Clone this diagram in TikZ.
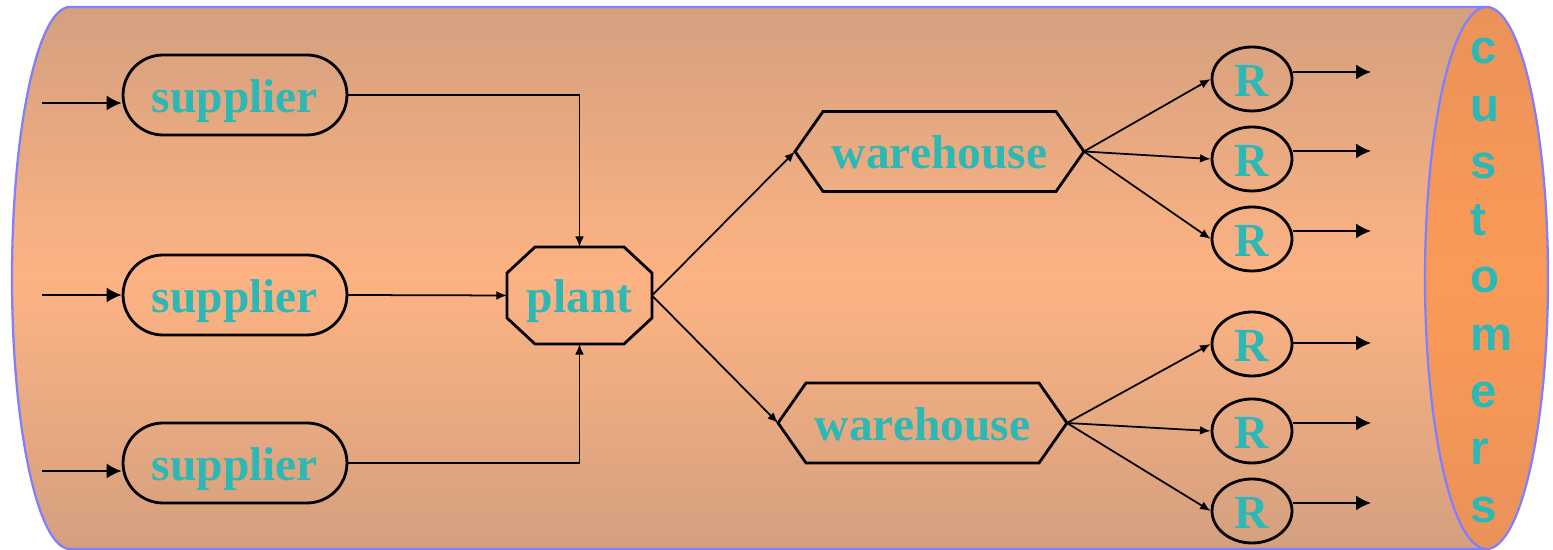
\documentclass[tikz,border=0pt]{standalone}
\usepackage{fontspec}
\newfontfamily\lblfont{Liberation Serif Bold}
\newfontfamily\custfont{Liberation Sans Bold}
\usetikzlibrary{shapes.misc,shapes.geometric,arrows.meta,calc}

\definecolor{bodyedge}{HTML}{D4A07F}
\definecolor{bodymid}{HTML}{FDB383}
\definecolor{capedge}{HTML}{EA9259}
\definecolor{capmid}{HTML}{FB9A58}
\definecolor{rim}{HTML}{8080FF}
\definecolor{labelteal}{HTML}{2EB8B5}

\tikzset{
  lbl/.style={text=labelteal, font=\lblfont\fontsize{27}{32}\selectfont,
    text height=19.5pt, text depth=0pt, inner sep=0pt},
  outline/.style={draw=black, line width=1.6pt, line join=miter},
  supbox/.style={lbl, outline, rounded rectangle, minimum width=4.48cm, minimum height=1.6cm},
  framebox/.style={lbl, rectangle, draw=none, outer sep=0pt},
  plantbox/.style={framebox, minimum width=2.9cm, minimum height=1.94cm},
  whbox/.style={framebox, minimum width=5.78cm, minimum height=1.6cm},
  retail/.style={lbl, outline, ellipse, minimum width=1.6cm, minimum height=1.28cm},
  link/.style={line width=1pt, -{Latex[length=6pt,width=5pt]}},
  flow/.style={line width=1pt, -{Latex[length=8.5pt,width=8.5pt]}},
}

\begin{document}
\begin{tikzpicture}[x=0.02cm, y=0.02cm]
\useasboundingbox (0,0) rectangle (1553,550);

% cylinder body: vertical gradient in thin bands
\begin{scope}
  \clip (1486,543) -- (70,543) arc[start angle=90, end angle=270, x radius=58, y radius=271]
    -- (1486,1) -- cycle;
  \foreach \i in {0,...,90} {
    \pgfmathsetmacro\yy{1+\i*6}
    \pgfmathsetmacro\shadeamt{min(100,abs(\yy+3-272)/271*100)}
    \fill[bodyedge!\shadeamt!bodymid] (0,\yy) rectangle (1553,\yy+6.6);
  }
\end{scope}
\draw[rim, line width=1.3pt]
  (1486,543) -- (70,543) arc[start angle=90, end angle=270, x radius=58, y radius=271]
  -- (1486,1);

% customer end cap
\begin{scope}
  \clip (1486.5,272) ellipse[x radius=61.5, y radius=271];
  \foreach \i in {0,...,90} {
    \pgfmathsetmacro\yy{1+\i*6}
    \pgfmathsetmacro\shadeamt{min(100,abs(\yy+3-272)/271*100)}
    \fill[capedge!\shadeamt!capmid] (1400,\yy) rectangle (1553,\yy+6.6);
  }
\end{scope}
\draw[rim, line width=1.3pt] (1486.5,272) ellipse[x radius=61.5, y radius=271];
\node[anchor=north west, inner sep=0pt, align=left, text=labelteal,
  font=\custfont\fontsize{27}{32.6}\selectfont] (cust) at (1470,512)
  {c\\u\\s\\t\\o\\m\\e\\r\\s};

% suppliers
\node[supbox] (s1) at (235,455) {supplier};
\node[supbox] (s2) at (235,255) {supplier};
\node[supbox] (s3) at (235,87) {supplier};
\coordinate (in1) at (42,447);
\coordinate (in2) at (42,255);
\coordinate (in3) at (42,79);

% plant (octagon outline around its node)
\node[plantbox] (plant) at (579.5,254.5) {plant};
\draw[outline] ($(plant.north west)+(28,0)$) -- ($(plant.north east)+(-28,0)$)
  -- ($(plant.north east)+(0,-26)$) -- ($(plant.south east)+(0,26)$)
  -- ($(plant.south east)+(-28,0)$) -- ($(plant.south west)+(28,0)$)
  -- ($(plant.south west)+(0,26)$) -- ($(plant.north west)+(0,-26)$) -- cycle;

% warehouses (hexagon outlines around their nodes)
\node[whbox] (w1) at (939.5,398.5) {warehouse};
\node[whbox] (w2) at (922.5,127) {warehouse};
\foreach \w in {w1,w2} {
  \draw[outline] (\w.west) -- ($(\w.north west)+(28,0)$) -- ($(\w.north east)+(-28,0)$)
    -- (\w.east) -- ($(\w.south east)+(-28,0)$) -- ($(\w.south west)+(28,0)$) -- cycle;
}

% retailers
\node[retail] (r1) at (1252,471) {R};
\node[retail] (r2) at (1252,391) {R};
\node[retail] (r3) at (1252,311) {R};
\node[retail] (r4) at (1252,206) {R};
\node[retail] (r5) at (1252,119) {R};
\node[retail] (r6) at (1252,39) {R};
\coordinate (o1) at (1371,478);
\coordinate (o2) at (1371,399);
\coordinate (o3) at (1371,319);
\coordinate (o4) at (1371,207);
\coordinate (o5) at (1371,127);
\coordinate (o6) at (1371,47);

% inbound flows
\draw[flow] (in1) -- (s1.west |- in1);
\draw[flow] (in2) -- (s2.west |- in2);
\draw[flow] (in3) -- (s3.west |- in3);

% supplier to plant
\draw[link] (s1.east) -| (plant.north);
\draw[link] (s2.east) -- (plant.west);
\draw[link] (s3.east) -| (plant.south);

% plant to warehouses
\draw[link] (plant.east) -- (w1.west);
\draw[link] (plant.east) -- (w2.west);

% warehouses to retailers
\draw[link] (w1.east) -- (r1.west);
\draw[link] (w1.east) -- (r2.west);
\draw[link] (w1.east) -- (r3.west);
\draw[link] (w2.east) -- (r4.west);
\draw[link] (w2.east) -- (r5.west);
\draw[link] (w2.east) -- (r6.west);

% retailers to customers
\draw[flow] (r1.east |- o1) -- (o1);
\draw[flow] (r2.east |- o2) -- (o2);
\draw[flow] (r3.east |- o3) -- (o3);
\draw[flow] (r4.east |- o4) -- (o4);
\draw[flow] (r5.east |- o5) -- (o5);
\draw[flow] (r6.east |- o6) -- (o6);
\end{tikzpicture}
\end{document}
